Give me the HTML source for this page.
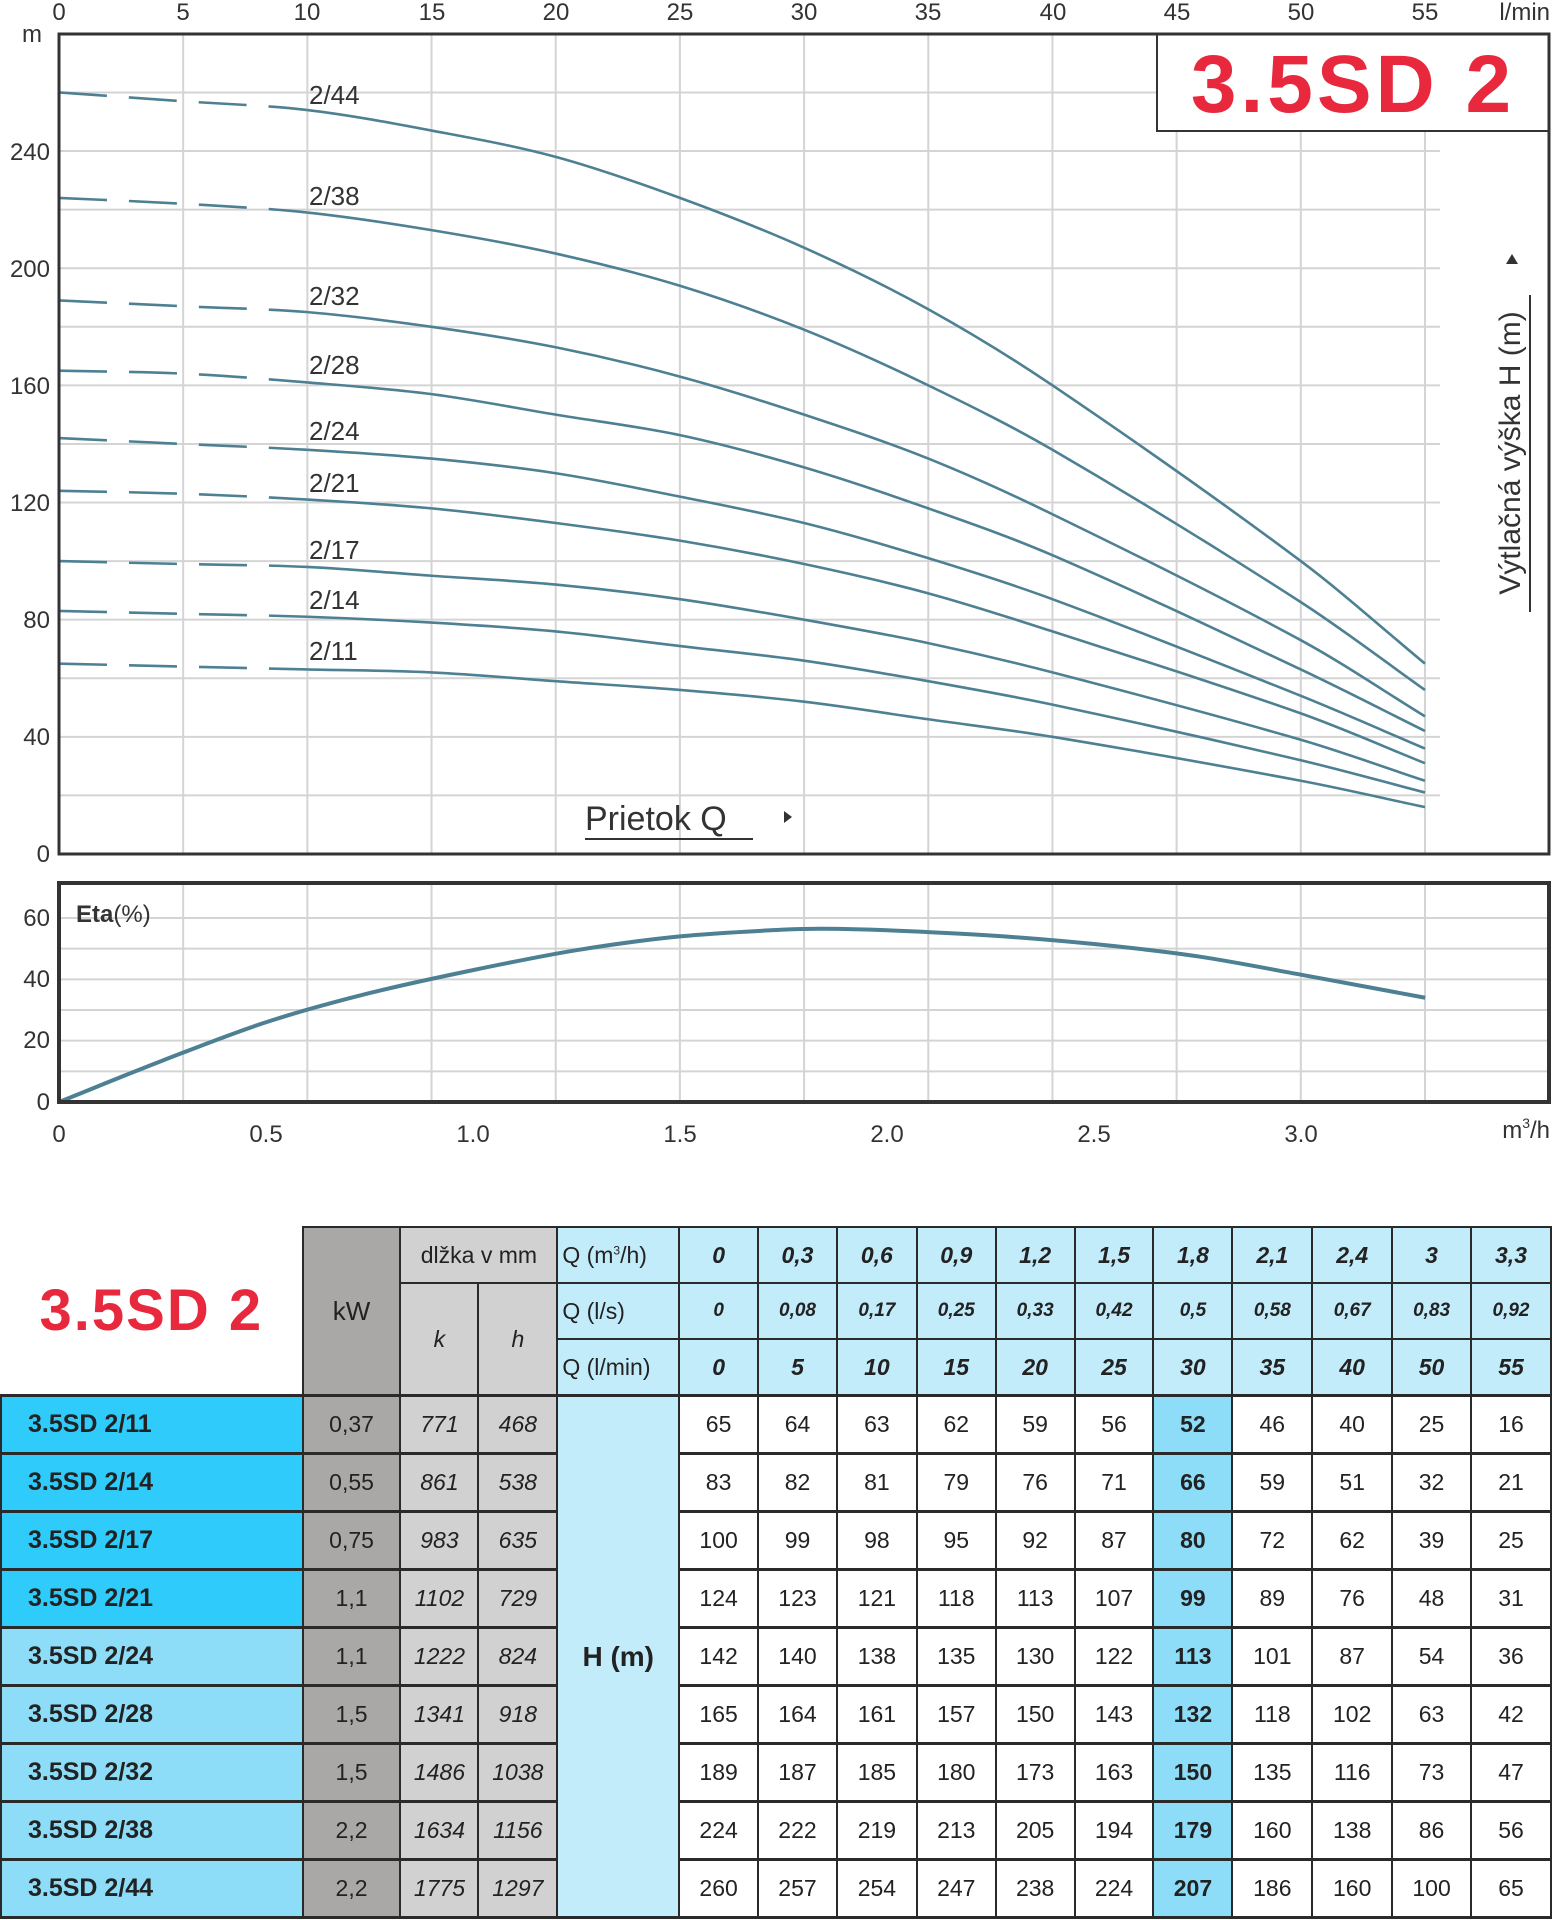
<!DOCTYPE html>
<html><head><meta charset="utf-8">
<style>
body{margin:0;width:1552px;height:1920px;background:#fff;position:relative;overflow:hidden;font-family:"Liberation Sans",sans-serif;}
svg{position:absolute;left:0;top:0}
table{position:absolute;left:0;top:1226px;border-collapse:collapse;table-layout:fixed;font-family:"Liberation Sans",sans-serif;}
td{padding:0;text-align:center;border:2px solid #2a2a2a;font-size:23px;color:#222;}
tr.h td{height:54px}
tr.d td{height:55px;border-top:3px solid #2a2a2a;border-bottom:3px solid #2a2a2a;background:#fff}
.t{border:none;background:#fff;color:#e8283c;font-size:58px;font-weight:bold;letter-spacing:2px}
.kw{background:#aaa7a7!important}
.kh{background:#d2d1d1!important}
.q{background:#c3ecfb!important;text-align:left;padding-left:4px}
.qv{background:#c3ecfb;font-weight:bold;font-style:italic}
.n1{background:#2ecbfb!important;font-weight:bold;text-align:left;padding-left:26px;font-size:25px}
.n2{background:#8ddcf8!important;font-weight:bold;text-align:left;padding-left:26px;font-size:25px}
.hm{background:#c3ecfb!important;font-weight:bold;font-size:28px}
.hl{background:#8ddcf8!important;font-weight:bold}
.it{font-style:italic}
</style></head><body>
<svg width="1552" height="1225" id="s" font-family="Liberation Sans, sans-serif">
<g id="grid" stroke="#d4d4d4" stroke-width="2"></g>
<g fill="#333" font-size="24">
<text x="59" y="20" text-anchor="middle">0</text><text x="183" y="20" text-anchor="middle">5</text><text x="307" y="20" text-anchor="middle">10</text><text x="432" y="20" text-anchor="middle">15</text><text x="556" y="20" text-anchor="middle">20</text><text x="680" y="20" text-anchor="middle">25</text><text x="804" y="20" text-anchor="middle">30</text><text x="928" y="20" text-anchor="middle">35</text><text x="1053" y="20" text-anchor="middle">40</text><text x="1177" y="20" text-anchor="middle">45</text><text x="1301" y="20" text-anchor="middle">50</text><text x="1425" y="20" text-anchor="middle">55</text><text x="1550" y="20" text-anchor="end">l/min</text>
<text x="32" y="42" text-anchor="middle">m</text>
<text x="50" y="160" text-anchor="end">240</text><text x="50" y="277" text-anchor="end">200</text><text x="50" y="394" text-anchor="end">160</text><text x="50" y="511" text-anchor="end">120</text><text x="50" y="628" text-anchor="end">80</text><text x="50" y="745" text-anchor="end">40</text><text x="50" y="862" text-anchor="end">0</text>
<text x="50" y="926" text-anchor="end">60</text><text x="50" y="987" text-anchor="end">40</text><text x="50" y="1048" text-anchor="end">20</text><text x="50" y="1110" text-anchor="end">0</text>
<text x="59" y="1142" text-anchor="middle">0</text><text x="266" y="1142" text-anchor="middle">0.5</text><text x="473" y="1142" text-anchor="middle">1.0</text><text x="680" y="1142" text-anchor="middle">1.5</text><text x="887" y="1142" text-anchor="middle">2.0</text><text x="1094" y="1142" text-anchor="middle">2.5</text><text x="1301" y="1142" text-anchor="middle">3.0</text>
<text x="1550" y="1138" text-anchor="end">m<tspan font-size="14" dy="-10">3</tspan><tspan dy="10">/h</tspan></text>
<text x="76" y="922" font-weight="bold" font-size="24">Eta<tspan font-weight="normal">(%)</tspan></text>
<text x="309" y="104" font-size="26">2/44</text><text x="309" y="205" font-size="26">2/38</text><text x="309" y="305" font-size="26">2/32</text><text x="309" y="374" font-size="26">2/28</text><text x="309" y="440" font-size="26">2/24</text><text x="309" y="492" font-size="26">2/21</text><text x="309" y="559" font-size="26">2/17</text><text x="309" y="609" font-size="26">2/14</text><text x="309" y="660" font-size="26">2/11</text>
<text x="585" y="830" font-size="34">Prietok Q</text><line x1="585" y1="839" x2="753" y2="839" stroke="#333" stroke-width="2"/><path d="M784 811 L792 817 L784 823Z"/>
<text transform="translate(1520,453) rotate(-90)" text-anchor="middle" font-size="30">Výtlačná výška H (m)</text><line x1="1530" y1="295" x2="1530" y2="612" stroke="#333" stroke-width="2"/><path d="M1506 264 L1512 254 L1518 264Z"/>
</g>
<g id="curves" fill="none" stroke="#4e8093" stroke-width="2.6"></g>
<rect x="1157" y="34" width="392" height="97" fill="#fff" stroke="#333" stroke-width="2"/>
<text x="1353" y="112" text-anchor="middle" fill="#e8283c" font-size="82" font-weight="bold" letter-spacing="4">3.5SD 2</text>
<rect x="59" y="34" width="1490" height="820" fill="none" stroke="#333" stroke-width="3"/>
<rect x="59" y="883" width="1490" height="219" fill="none" stroke="#333" stroke-width="4"/>
</svg>
<table>
<colgroup><col style="width:302px"><col style="width:98px"><col style="width:78px"><col style="width:79px"><col style="width:122px"><col style="width:79px"><col style="width:79px"><col style="width:80px"><col style="width:79px"><col style="width:79px"><col style="width:79px"><col style="width:79px"><col style="width:80px"><col style="width:80px"><col style="width:79px"><col style="width:80px"></colgroup>
<tr class="h"><td class="t" rowspan="3">3.5SD 2</td><td class="kw" rowspan="3" style="font-size:26px">kW</td><td class="kh" colspan="2">dlžka v mm</td><td class="q">Q (m<sup style="font-size:12px">3</sup>/h)</td><td class="qv">0</td><td class="qv">0,3</td><td class="qv">0,6</td><td class="qv">0,9</td><td class="qv">1,2</td><td class="qv">1,5</td><td class="qv">1,8</td><td class="qv">2,1</td><td class="qv">2,4</td><td class="qv">3</td><td class="qv">3,3</td></tr>
<tr class="h"><td class="kh it" rowspan="2">k</td><td class="kh it" rowspan="2">h</td><td class="q">Q (l/s)</td><td class="qv" style="font-size:19px">0</td><td class="qv" style="font-size:19px">0,08</td><td class="qv" style="font-size:19px">0,17</td><td class="qv" style="font-size:19px">0,25</td><td class="qv" style="font-size:19px">0,33</td><td class="qv" style="font-size:19px">0,42</td><td class="qv" style="font-size:19px">0,5</td><td class="qv" style="font-size:19px">0,58</td><td class="qv" style="font-size:19px">0,67</td><td class="qv" style="font-size:19px">0,83</td><td class="qv" style="font-size:19px">0,92</td></tr>
<tr class="h"><td class="q">Q (l/min)</td><td class="qv">0</td><td class="qv">5</td><td class="qv">10</td><td class="qv">15</td><td class="qv">20</td><td class="qv">25</td><td class="qv">30</td><td class="qv">35</td><td class="qv">40</td><td class="qv">50</td><td class="qv">55</td></tr>
<tr class="d"><td class="n1">3.5SD 2/11</td><td class="kw">0,37</td><td class="kh it">771</td><td class="kh it">468</td><td class="hm" rowspan="9">H (m)</td><td>65</td><td>64</td><td>63</td><td>62</td><td>59</td><td>56</td><td class="hl">52</td><td>46</td><td>40</td><td>25</td><td>16</td></tr>
<tr class="d"><td class="n1">3.5SD 2/14</td><td class="kw">0,55</td><td class="kh it">861</td><td class="kh it">538</td><td>83</td><td>82</td><td>81</td><td>79</td><td>76</td><td>71</td><td class="hl">66</td><td>59</td><td>51</td><td>32</td><td>21</td></tr>
<tr class="d"><td class="n1">3.5SD 2/17</td><td class="kw">0,75</td><td class="kh it">983</td><td class="kh it">635</td><td>100</td><td>99</td><td>98</td><td>95</td><td>92</td><td>87</td><td class="hl">80</td><td>72</td><td>62</td><td>39</td><td>25</td></tr>
<tr class="d"><td class="n1">3.5SD 2/21</td><td class="kw">1,1</td><td class="kh it">1102</td><td class="kh it">729</td><td>124</td><td>123</td><td>121</td><td>118</td><td>113</td><td>107</td><td class="hl">99</td><td>89</td><td>76</td><td>48</td><td>31</td></tr>
<tr class="d"><td class="n2">3.5SD 2/24</td><td class="kw">1,1</td><td class="kh it">1222</td><td class="kh it">824</td><td>142</td><td>140</td><td>138</td><td>135</td><td>130</td><td>122</td><td class="hl">113</td><td>101</td><td>87</td><td>54</td><td>36</td></tr>
<tr class="d"><td class="n2">3.5SD 2/28</td><td class="kw">1,5</td><td class="kh it">1341</td><td class="kh it">918</td><td>165</td><td>164</td><td>161</td><td>157</td><td>150</td><td>143</td><td class="hl">132</td><td>118</td><td>102</td><td>63</td><td>42</td></tr>
<tr class="d"><td class="n2">3.5SD 2/32</td><td class="kw">1,5</td><td class="kh it">1486</td><td class="kh it">1038</td><td>189</td><td>187</td><td>185</td><td>180</td><td>173</td><td>163</td><td class="hl">150</td><td>135</td><td>116</td><td>73</td><td>47</td></tr>
<tr class="d"><td class="n2">3.5SD 2/38</td><td class="kw">2,2</td><td class="kh it">1634</td><td class="kh it">1156</td><td>224</td><td>222</td><td>219</td><td>213</td><td>205</td><td>194</td><td class="hl">179</td><td>160</td><td>138</td><td>86</td><td>56</td></tr>
<tr class="d"><td class="n2">3.5SD 2/44</td><td class="kw">2,2</td><td class="kh it">1775</td><td class="kh it">1297</td><td>260</td><td>257</td><td>254</td><td>247</td><td>238</td><td>224</td><td class="hl">207</td><td>186</td><td>160</td><td>100</td><td>65</td></tr>
</table>
<script>
var NS="http://www.w3.org/2000/svg";
function el(p,n,a){var e=document.createElementNS(NS,n);for(var k in a)e.setAttribute(k,a[k]);p.appendChild(e);return e;}
var g=document.getElementById('grid');
for(var i=1;i<=11;i++){var x=59+i*124.18;el(g,'line',{x1:x,y1:34,x2:x,y2:854});el(g,'line',{x1:x,y1:883,x2:x,y2:1102});}
for(var h=20;h<=260;h+=20){var y=854-h*2.929;el(g,'line',{x1:59,y1:y,x2:1440,y2:y});}
for(var e=10;e<=60;e+=10){var y=1102-e*3.067;el(g,'line',{x1:59,y1:y,x2:1549,y2:y});}
var Q=[0,5,10,15,20,25,30,35,40,50,55];
var D=[[65,64,63,62,59,56,52,46,40,25,16],[83,82,81,79,76,71,66,59,51,32,21],[100,99,98,95,92,87,80,72,62,39,25],[124,123,121,118,113,107,99,89,76,48,31],[142,140,138,135,130,122,113,101,87,54,36],[165,164,161,157,150,143,132,118,102,63,42],[189,187,185,180,173,163,150,135,116,73,47],[224,222,219,213,205,194,179,160,138,86,56],[260,257,254,247,238,224,207,186,160,100,65]];
function slopes(pts){var n=pts.length,m=[];for(var i=0;i<n;i++){var a=pts[Math.max(0,i-1)],b=pts[Math.min(n-1,i+1)];m.push((b[1]-a[1])/(b[0]-a[0]));}return m;}
function path(pts,from,to){var m=slopes(pts);var d="M"+pts[from][0]+" "+pts[from][1];for(var i=from;i<to;i++){var p1=pts[i],p2=pts[i+1],dx=(p2[0]-p1[0])/3;d+=" C"+(p1[0]+dx)+" "+(p1[1]+m[i]*dx)+" "+(p2[0]-dx)+" "+(p2[1]-m[i+1]*dx)+" "+p2[0]+" "+p2[1];}return d;}
var c=document.getElementById('curves');
D.forEach(function(r){var pts=r.map(function(v,i){return [59+Q[i]*24.836,854-v*2.929];});
el(c,'path',{d:path(pts,0,2),'stroke-dasharray':'48 22'});
el(c,'path',{d:path(pts,2,pts.length-1)});});
var E=[[0,0],[0.25,13.5],[0.5,26],[0.75,35.5],[1.0,43],[1.25,49.5],[1.5,54],[1.75,56.2],[1.85,56.5],[2.0,56],[2.25,54.3],[2.5,51.5],[2.75,47.5],[3.0,41.5],[3.3,34]];
var EP=E.map(function(p){return [59+p[0]*414,1102-p[1]*3.067];});
el(c,'path',{d:path(EP,0,EP.length-1),'stroke-width':4});
</script>
</body></html>
